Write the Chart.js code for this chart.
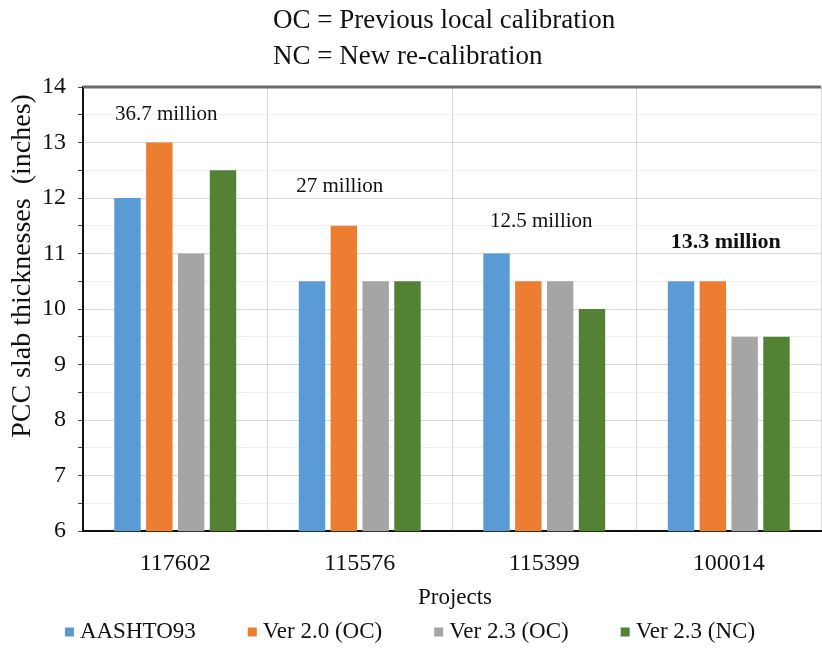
<!DOCTYPE html>
<html>
<head>
<meta charset="utf-8">
<script src="https://cdn.jsdelivr.net/npm/chart.js@4.4.0/dist/chart.umd.min.js"></script>
<style>
  html, body { margin: 0; padding: 0; background: #fff; }
  #wrap { width: 822px; height: 648px; }
</style>
</head>
<body>
<div id="wrap"><canvas id="pccChart" width="822" height="648"></canvas></div>
<script>
// Chart data
const projects = ["117602", "115576", "115399", "100014"];
const aashto93 = [12, 10.5, 11, 10.5];
const ver20OC = [13, 11.5, 10.5, 10.5];
const ver23OC = [11, 10.5, 10.5, 9.5];
const ver23NC = [12.5, 10.5, 10, 9.5];

// Traffic notes above each project group
const trafficLabels = ["36.7 million", "27 million", "12.5 million", "13.3 million"];
const trafficLabelY = [13.5, 12.2, 11.57, 11.21];
const trafficBold = [false, false, false, true];

const titleLines = ["OC = Previous local calibration", "NC = New re-calibration"];
const yTitle = "PCC slab thicknesses  (inches)";
const xTitle = "Projects";

const serif = "'Liberation Serif', 'Times New Roman', serif";

// Draws titles, traffic notes, legend and the heavy top border
const extrasPlugin = {
  id: "extras",
  afterDatasetsDraw(chart) {
    const ctx = chart.ctx;
    const x = chart.scales.x;
    const y = chart.scales.y;
    const area = chart.chartArea;
    const shift = [-9, -20, -3, -3];
    ctx.save();
    ctx.fillStyle = "#111";

    // traffic notes
    ctx.textAlign = "center";
    ctx.textBaseline = "middle";
    trafficLabels.forEach((t, i) => {
      ctx.font = (trafficBold[i] ? "bold 22px " : "21px ") + serif;
      ctx.fillText(t, x.getPixelForValue(i) + shift[i], y.getPixelForValue(trafficLabelY[i]));
    });

    // top border
    ctx.strokeStyle = "#6b6b6b";
    ctx.lineWidth = 3;
    ctx.beginPath();
    ctx.moveTo(area.left, area.top);
    ctx.lineTo(area.right, area.top);
    ctx.stroke();

    // title, left aligned lines
    ctx.font = "27px " + serif;
    ctx.textAlign = "left";
    ctx.fillText(titleLines[0], 273, 21);
    ctx.fillText(titleLines[1], 273, 57);

    // x axis title
    ctx.textAlign = "center";
    ctx.font = "23px " + serif;
    ctx.fillText(xTitle, (area.left + area.right) / 2 + 3, 598);

    // y axis title
    ctx.save();
    ctx.translate(23, 266);
    ctx.rotate(-Math.PI / 2);
    ctx.font = "28px " + serif;
    ctx.fillText(yTitle, 0, 0);
    ctx.restore();

    // legend
    ctx.font = "23px " + serif;
    ctx.textAlign = "left";
    const box = 9;
    const gap = 6;
    const spacing = 52;
    const items = chart.data.datasets.map((ds) => ({
      text: ds.label,
      color: ds.backgroundColor,
      w: box + gap + ctx.measureText(ds.label).width,
    }));
    const total = items.reduce((s, it) => s + it.w, 0) + spacing * (items.length - 1);
    let lx = 410 - total / 2;
    const ly = 632;
    items.forEach((it) => {
      ctx.fillStyle = it.color;
      ctx.fillRect(lx, ly - box / 2, box, box);
      ctx.fillStyle = "#111";
      ctx.fillText(it.text, lx + box + gap, ly);
      lx += it.w + spacing;
    });
    ctx.restore();
  },
};

function initializePccChart() {
  const ctx = document.getElementById("pccChart").getContext("2d");
  new Chart(ctx, {
    type: "bar",
    data: {
      labels: projects,
      datasets: [
        { label: "AASHTO93", data: aashto93, backgroundColor: "#5B9BD5" },
        { label: "Ver 2.0 (OC)", data: ver20OC, backgroundColor: "#ED7D31" },
        { label: "Ver 2.3 (OC)", data: ver23OC, backgroundColor: "#A5A5A5" },
        { label: "Ver 2.3 (NC)", data: ver23NC, backgroundColor: "#548235" },
      ],
    },
    options: {
      responsive: false,
      animation: false,
      devicePixelRatio: 1,
      layout: { padding: { left: 30, right: 1, top: 87, bottom: 52 } },
      datasets: {
        bar: { barPercentage: 0.83, categoryPercentage: 0.69 },
      },
      plugins: {
        title: { display: false },
        legend: { display: false },
        tooltip: { enabled: false },
      },
      scales: {
        x: {
          grid: { color: "#d9d9d9", drawTicks: false },
          border: { color: "#111", width: 2 },
          ticks: { color: "#111", font: { family: serif, size: 24 }, padding: 18 },
        },
        y: {
          min: 6,
          max: 14,
          grid: {
            color: (c) => (Number.isInteger(c.tick.value) ? "#d9d9d9" : "#f0f0f0"),
            tickColor: "#444",
            tickLength: 5,
          },
          border: { color: "#111", width: 2 },
          ticks: {
            stepSize: 0.5,
            autoSkip: false,
            color: "#111",
            font: { family: serif, size: 24 },
            padding: 12,
            callback: (v) => (Number.isInteger(v) ? v : ""),
          },
        },
      },
    },
    plugins: [extrasPlugin],
  });
}

initializePccChart();
</script>
</body>
</html>
